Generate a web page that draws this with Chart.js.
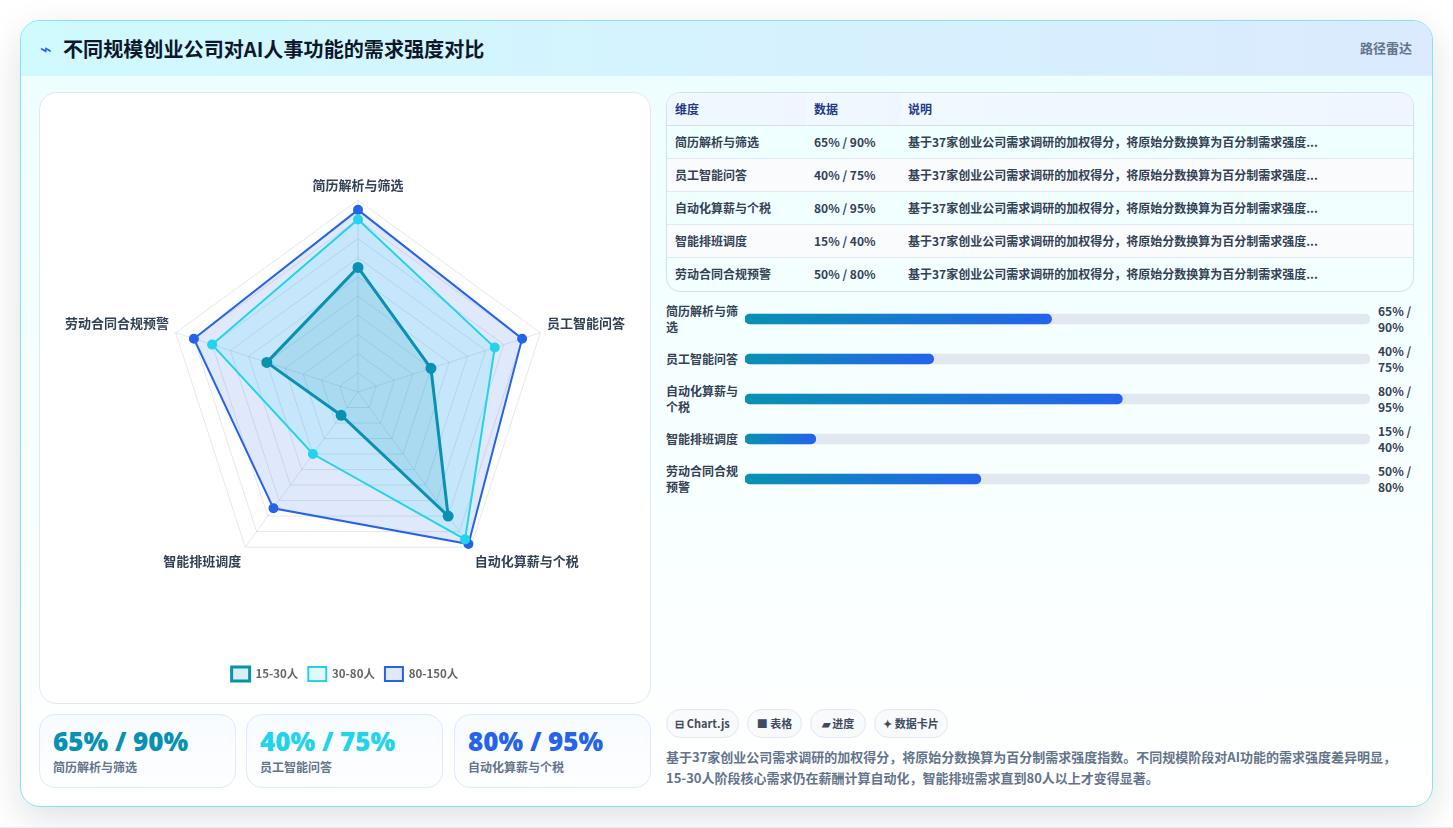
<!DOCTYPE html>
<html lang="zh">
<head>
<meta charset="utf-8">
<title>不同规模创业公司对AI人事功能的需求强度对比</title>
<script src="https://cdn.jsdelivr.net/npm/chart.js@4"></script>
<style>
* { box-sizing: border-box; }
html, body { margin: 0; height: 100%; }
body {
  width: 1453px; height: 828px; overflow: hidden; position: relative;
  background: #fff; border-bottom: 1px solid #e8ecf0;
  font-family: "Noto Sans CJK SC", "Noto Sans", sans-serif; color: #1e293b;
}
.shadow {
  position: absolute; left: 20px; top: 20px; width: 1413px; height: 787px; border-radius: 20px;
  box-shadow: 0 12px 36px rgba(15, 23, 42, .13);
}
.panel {
  position: absolute; left: 20px; top: 20px; width: 1413px; height: 787px;
  border: 1px solid #86e3ee; border-radius: 20px; overflow: hidden;
  background: linear-gradient(180deg, #ecfeff 0%, #f5ffff 45%, #fff 100%);
}
.head {
  position: absolute; left: 0; top: 0; right: 0; height: 55px;
  background: linear-gradient(90deg, #cffafe, #dbeafe);
  border-bottom: 1px solid #d8f3fa;
}
.head h1 { position: absolute; left: 42px; top: 12px; margin: 0; font-size: 20.1px; line-height: 32px; font-weight: 700; color: #0f172a; white-space: nowrap; }
.head .bolt { position: absolute; left: 19px; top: 14px; font-size: 20px; line-height: 28px; color: #2563eb; font-family: "DejaVu Sans"; }
.head .tag { position: absolute; right: 20px; top: 17px; font-size: 13px; line-height: 20px; font-weight: 600; color: #64748b; }
.radar-card {
  position: absolute; left: 18px; top: 71px; width: 612px; height: 612px;
  background: #fff; border: 1px solid #e2e8f0; border-radius: 18px;
}
.radar-card canvas { position: absolute; left: 0; top: 0; }
.kpi {
  position: absolute; top: 693px; width: 197px; height: 74px; padding: 8px 13px;
  border: 1px solid #dbeafe; border-radius: 16px;
  background: linear-gradient(180deg, #f8fbff, #fdfeff);
}
.kpi b { display: block; font: 800 26px/36px "Open Sans", sans-serif; }
.kpi span { display: block; font-size: 12px; line-height: 18px; font-weight: 600; color: #64748b; margin-top: -1px; }
.tbl {
  position: absolute; left: 645px; top: 71px; width: 748px; height: 200px;
  border: 1px solid #d5dfe8; border-radius: 14px; overflow: hidden;
}
.tbl table { width: 100%; border-collapse: collapse; table-layout: fixed; font-size: 12px; font-weight: 600; color: #334155; }
.tbl th { height: 32px; text-align: left; padding: 0 0 0 8px; font-weight: 600; color: #1e3a8a; background: linear-gradient(90deg, #f0f9ff, #eff6ff); border-bottom: 1px solid #d5dfe8; }
.tbl td { height: 33px; padding: 0 0 0 8px; border-bottom: 1px solid #e2e8f0; white-space: nowrap; }
.tbl tr:last-child td { border-bottom: 0; }
.tbl tbody tr:nth-child(even) td { background: #fafbfd; }
.rows { position: absolute; left: 645px; top: 278px; width: 748px; height: 200px; }
.rows canvas { position: absolute; left: 79px; top: 0; }
.rows .name { position: absolute; left: 0; width: 74px; font-size: 12px; line-height: 16px; font-weight: 600; color: #334155; }
.rows .val { position: absolute; left: 712px; width: 38px; font-size: 12px; line-height: 16px; font-weight: 700; color: #334155; }
.pill {
  position: absolute; top: 688px; height: 29px; border: 1px solid #e2e8f0; border-radius: 15px;
  background: #f8fafc; font-size: 11px; line-height: 27px; font-weight: 700; color: #3f4b5f; text-align: center; white-space: nowrap;
}
.note { position: absolute; left: 645px; top: 726px; width: 740px; margin: 0; font-size: 13px; line-height: 20.8px; font-weight: 600; color: #64748b; }
</style>
</head>
<body>
<div class="shadow"></div>
<div class="panel">
  <div class="head">
    <span class="bolt">⌁</span>
    <h1>不同规模创业公司对AI人事功能的需求强度对比</h1>
    <span class="tag">路径雷达</span>
  </div>
  <div class="radar-card"><canvas id="radar" width="610" height="610"></canvas></div>
  <div class="tbl"><table id="tbl"></table></div>
  <div class="rows" id="rows"><canvas id="bars" width="625" height="200"></canvas></div>
  <p class="note">基于37家创业公司需求调研的加权得分，将原始分数换算为百分制需求强度指数。不同规模阶段对AI功能的需求强度差异明显，15-30人阶段核心需求仍在薪酬计算自动化，智能排班需求直到80人以上才变得显著。</p>
</div>
<script>
const categories = ["简历解析与筛选", "员工智能问答", "自动化算薪与个税", "智能排班调度", "劳动合同合规预警"];
const small = [65, 40, 80, 15, 50];
const mid = [90, 75, 95, 40, 80];
const large = [95, 90, 98, 75, 90];
const sizeNames = ["15-30人", "30-80人", "80-150人"];
const barLabels = [["简历解析与筛", "选"], ["员工智能问答"], ["自动化算薪与", "个税"], ["智能排班调度"], ["劳动合同合规", "预警"]];
const noteShort = "基于37家创业公司需求调研的加权得分，将原始分数换算为百分制需求强度...";
const pillTexts = ["⊟ Chart.js", "■ 表格", "▰ 进度", "✦ 数据卡片"];
const pillLeft = [645, 726, 789, 853];
const pillWidth = [73, 55, 56, 74];
const kpiColors = ["#0891b2", "#22d3ee", "#2563eb"];
const kpiLeft = [18, 225, 433];
const barAxisMax = 132.5;

const pair = i => small[i] + "% / " + mid[i] + "%";
const panel = document.querySelector(".panel");

// table
let rowsHtml = "<thead><tr><th style='width:139px'>维度</th><th style='width:94px'>数据</th><th>说明</th></tr></thead><tbody>";
categories.forEach((c, i) => {
  rowsHtml += "<tr><td>" + c + "</td><td>" + pair(i) + "</td><td>" + noteShort + "</td></tr>";
});
document.getElementById("tbl").innerHTML = rowsHtml + "</tbody>";

// progress row labels
const rowsEl = document.getElementById("rows");
barLabels.forEach((lines, i) => {
  const rowMid = 20 + i * 40;
  const name = document.createElement("div");
  name.className = "name";
  name.style.top = (rowMid - lines.length * 8) + "px";
  name.innerHTML = lines.join("<br>");
  rowsEl.appendChild(name);
  const val = document.createElement("div");
  val.className = "val";
  val.style.top = (rowMid - 16) + "px";
  val.innerHTML = small[i] + "% /<br>" + mid[i] + "%";
  rowsEl.appendChild(val);
});

// summary cards
kpiColors.forEach((color, i) => {
  const d = document.createElement("div");
  d.className = "kpi";
  d.style.left = kpiLeft[i] + "px";
  d.innerHTML = "<b style='color:" + color + "'>" + pair(i) + "</b><span>" + categories[i] + "</span>";
  panel.appendChild(d);
});

pillTexts.forEach((t, i) => {
  const p = document.createElement("div");
  p.className = "pill";
  p.style.left = pillLeft[i] + "px";
  p.style.width = pillWidth[i] + "px";
  p.textContent = t;
  panel.appendChild(p);
});

Chart.defaults.font.family = '"Noto Sans CJK SC", "Noto Sans", sans-serif';
Chart.defaults.animation = false;

const radarConfig = {
  type: "radar",
  data: {
    labels: categories,
    datasets: [
      { label: sizeNames[0], data: small, borderColor: "#0891b2", backgroundColor: "rgba(8,145,178,0.15)", pointBackgroundColor: "#0891b2", borderWidth: 3, pointRadius: 4 },
      { label: sizeNames[1], data: mid, borderColor: "#22d3ee", backgroundColor: "rgba(34,211,238,0.14)", pointBackgroundColor: "#22d3ee", borderWidth: 2, pointRadius: 4 },
      { label: sizeNames[2], data: large, borderColor: "#2563eb", backgroundColor: "rgba(37,99,235,0.14)", pointBackgroundColor: "#2563eb", borderWidth: 2, pointRadius: 4 },
    ],
  },
  options: {
    responsive: false,
    layout: { padding: { top: 12, left: 12, right: 12, bottom: 12 } },
    scales: {
      r: {
        min: 0,
        max: 100,
        ticks: { stepSize: 10, display: false },
        grid: { color: "rgba(148,163,184,0.25)" },
        angleLines: { color: "rgba(148,163,184,0.25)" },
        pointLabels: { font: { size: 13, weight: "600" }, color: "#334155", padding: 7 },
      },
    },
    plugins: {
      legend: {
        position: "bottom",
        labels: { boxWidth: 18, boxHeight: 14, font: { size: 11.5, weight: "600" }, padding: 10 },
      },
      tooltip: { enabled: false },
    },
  },
};
new Chart(document.getElementById("radar"), radarConfig);

// gradient fill for each bar runs from zero to that bar's own end
function fillGradient(context) {
  const chart = context.chart;
  const x = chart.scales.x;
  if (!x || !chart.chartArea) return "#0891b2";
  const g = chart.ctx.createLinearGradient(x.getPixelForValue(0), 0, x.getPixelForValue(context.raw), 0);
  g.addColorStop(0, "#0891b2");
  g.addColorStop(1, "#2563eb");
  return g;
}

const barConfig = {
  type: "bar",
  data: {
    labels: categories,
    datasets: [
      { data: small, backgroundColor: fillGradient, barThickness: 10, borderRadius: 5, borderSkipped: false, grouped: false, order: 1 },
      { data: categories.map(() => barAxisMax), backgroundColor: "#e2e8f0", barThickness: 10, borderRadius: 5, borderSkipped: false, grouped: false, order: 2 },
    ],
  },
  options: {
    responsive: false,
    indexAxis: "y",
    layout: { padding: 0 },
    scales: {
      x: { display: false, min: 0, max: barAxisMax },
      y: { display: false },
    },
    plugins: { legend: { display: false }, tooltip: { enabled: false } },
  },
};
new Chart(document.getElementById("bars"), barConfig);
</script>
</body>
</html>
